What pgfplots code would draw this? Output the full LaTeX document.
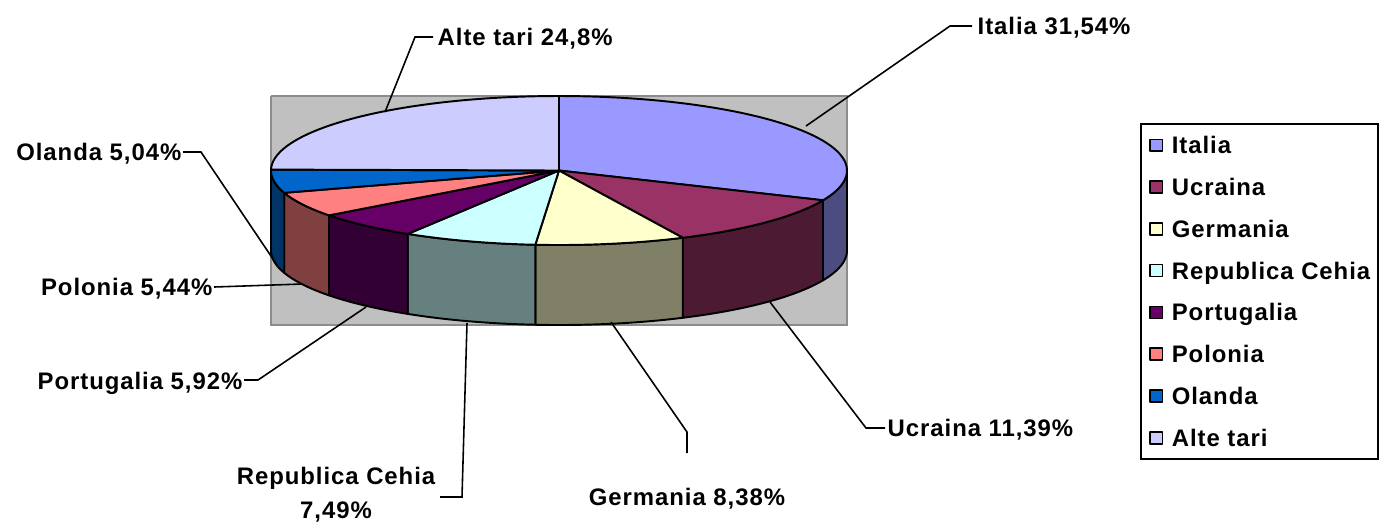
\documentclass[border=0pt]{standalone}
\usepackage{fontspec}
\usepackage{pgfplots}
\pgfplotsset{compat=1.18}
\newfontfamily\lab{Liberation Sans}[LetterSpace=4]
\newcommand\lf{\lab\bfseries\fontsize{6.8}{8}\selectfont}

\definecolor{bgc}{HTML}{C0C0C0}
\definecolor{bgb}{HTML}{8C8C8C}
\definecolor{cItalia}{HTML}{9999FF}\definecolor{sItalia}{HTML}{4C4C80}
\definecolor{cUcraina}{HTML}{993366}\definecolor{sUcraina}{HTML}{4C1A33}
\definecolor{cGermania}{HTML}{FFFFCC}\definecolor{sGermania}{HTML}{808066}
\definecolor{cCehia}{HTML}{CCFFFF}\definecolor{sCehia}{HTML}{668080}
\definecolor{cPortugalia}{HTML}{660066}\definecolor{sPortugalia}{HTML}{330033}
\definecolor{cPolonia}{HTML}{FF8080}\definecolor{sPolonia}{HTML}{804040}
\definecolor{cOlanda}{HTML}{0066CC}\definecolor{sOlanda}{HTML}{003366}
\definecolor{cAlte}{HTML}{CCCCFF}

% shares (%) : Italia, Ucraina, Germania, Republica Cehia, Portugalia, Polonia, Olanda, Alte tari
\def\piedata{31.54,11.39,8.38,7.49,5.92,5.44,5.04,24.80}
\gdef\acc{0}
\foreach \p [count=\i] in \piedata {%
  \pgfmathsetmacro\st{90-3.6*\acc}%
  \pgfmathsetmacro\newacc{\acc+\p}%
  \pgfmathsetmacro\en{90-3.6*\newacc}%
  \expandafter\xdef\csname pieS\romannumeral\i\endcsname{\st}%
  \expandafter\xdef\csname pieE\romannumeral\i\endcsname{\en}%
  \xdef\acc{\newacc}%
}

\def\cx{559}\def\cy{170.5}\def\rx{288}\def\ry{74.5}\def\dep{80}

\newcommand\topslice[3]{%
 \addplot[fill=#3, draw=black, line width=0.55pt, line join=round, variable=\t,
   samples at={0,1,...,60,80,100}]
  ({\cx + ifthenelse(abs(\t-80)<1,0,1)*\rx*cos(ifthenelse(\t<61,(#1)+((#2)-(#1))*\t/60,#1))},
   {\cy - ifthenelse(abs(\t-80)<1,0,1)*\ry*sin(ifthenelse(\t<61,(#1)+((#2)-(#1))*\t/60,#1))});
}
\newcommand\sideslice[3]{%
 \addplot[fill=#3, draw=black, line width=0.55pt, line join=round, variable=\t, forget plot,
   samples at={0,1,...,40,100,101,...,140,200}]
  ({\cx + \rx*cos(ifthenelse(\t<41,(#1)+((#2)-(#1))*\t/40,ifthenelse(\t<141,(#2)+((#1)-(#2))*(\t-100)/40,#1)))},
   {\cy - \ry*sin(ifthenelse(\t<41,(#1)+((#2)-(#1))*\t/40,ifthenelse(\t<141,(#2)+((#1)-(#2))*(\t-100)/40,#1))) + ifthenelse(and(\t>50,\t<150),\dep,0)});
}

\begin{document}
\begin{tikzpicture}
\begin{axis}[
  scale only axis, width=13.82cm, height=5.24cm,
  xmin=0, xmax=1382, ymin=0, ymax=524, y dir=reverse,
  hide axis, clip=false,
  legend image code/.code={\draw[#1, draw=black, line width=0.45pt] (0pt,-1.7pt) rectangle (3.6pt,1.7pt);},
  legend cell align=left,
  legend style={at={(axis cs:1140,123)}, anchor=north west,
    draw=black, line width=0.6pt, fill=white,
    font=\lf, inner xsep=2.3pt, inner ysep=3.6pt, row sep=7.02pt,
    nodes={inner sep=0pt, text height=4.87pt, text depth=0pt},
    /tikz/every odd column/.append style={column sep=2.4pt}},
]
% plot area
\addplot[fill=bgc, draw=bgb, line width=0.5pt, forget plot] coordinates {(271,96) (847,96) (847,325) (271,325) (271,96)};
% side faces (visible front part)
\sideslice{min(\pieSi,0)}{max(\pieEi,-180)}{sItalia}
\sideslice{\pieSii}{\pieEii}{sUcraina}
\sideslice{\pieSiii}{\pieEiii}{sGermania}
\sideslice{\pieSiv}{\pieEiv}{sCehia}
\sideslice{\pieSv}{\pieEv}{sPortugalia}
\sideslice{\pieSvi}{\pieEvi}{sPolonia}
\sideslice{\pieSvii}{max(\pieEvii,-180)}{sOlanda}
% top faces
\topslice{\pieSi}{\pieEi}{cItalia}\addlegendentry{Italia}
\topslice{\pieSii}{\pieEii}{cUcraina}\addlegendentry{Ucraina}
\topslice{\pieSiii}{\pieEiii}{cGermania}\addlegendentry{Germania}
\topslice{\pieSiv}{\pieEiv}{cCehia}\addlegendentry{Republica Cehia}
\topslice{\pieSv}{\pieEv}{cPortugalia}\addlegendentry{Portugalia}
\topslice{\pieSvi}{\pieEvi}{cPolonia}\addlegendentry{Polonia}
\topslice{\pieSvii}{\pieEvii}{cOlanda}\addlegendentry{Olanda}
\topslice{\pieSviii}{\pieEviii}{cAlte}\addlegendentry{Alte tari}
% leader lines
\addplot[black, line width=0.45pt, forget plot] coordinates {(806,126) (950,26) (972,26)};
\addplot[black, line width=0.45pt, forget plot] coordinates {(385,112) (415,37) (433,37)};
\addplot[black, line width=0.45pt, forget plot] coordinates {(183,152) (201,152) (277,265)};
\addplot[black, line width=0.45pt, forget plot] coordinates {(214,287) (302,284)};
\addplot[black, line width=0.45pt, forget plot] coordinates {(244,380) (258,380) (366,307)};
\addplot[black, line width=0.45pt, forget plot] coordinates {(440,497) (462,497) (467,323)};
\addplot[black, line width=0.45pt, forget plot] coordinates {(687,453) (687,432) (611,322)};
\addplot[black, line width=0.45pt, forget plot] coordinates {(885,428) (866,428) (770,302)};
% labels
\node[anchor=base west, font=\lf, inner sep=0pt] at (axis cs:977,34.5) {Italia 31,54\%};
\node[anchor=base west, font=\lf, inner sep=0pt] at (axis cs:437,45.5) {Alte tari 24,8\%};
\node[anchor=base east, font=\lf, inner sep=0pt] at (axis cs:182,160.5) {Olanda 5,04\%};
\node[anchor=base east, font=\lf, inner sep=0pt] at (axis cs:213,295.5) {Polonia 5,44\%};
\node[anchor=base east, font=\lf, inner sep=0pt] at (axis cs:243,389.5) {Portugalia 5,92\%};
\node[anchor=base, font=\lf, inner sep=0pt] at (axis cs:336,484.5) {Republica Cehia};
\node[anchor=base, font=\lf, inner sep=0pt] at (axis cs:336,518.5) {7,49\%};
\node[anchor=base, font=\lf, inner sep=0pt] at (axis cs:687,505.5) {Germania 8,38\%};
\node[anchor=base west, font=\lf, inner sep=0pt] at (axis cs:887,436.5) {Ucraina 11,39\%};
\end{axis}
\pgfresetboundingbox
\path (current axis.south west) rectangle (current axis.north east);
\end{tikzpicture}
\end{document}
